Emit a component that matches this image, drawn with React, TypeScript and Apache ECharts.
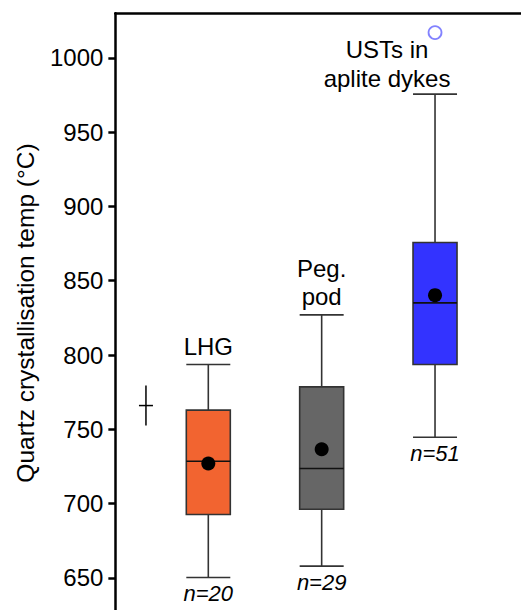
import React, { useEffect, useRef } from "react";
import * as echarts from "echarts";

// ---- data ----
const categories: string[][] = [["LHG"], ["Peg.", "pod"], ["USTs in", "aplite dykes"]];
const counts = ["n=20", "n=29", "n=51"];
const whiskerLow = [650.3, 657.9, 744.7];
const q1 = [692.7, 696.2, 793.6];
const median = [728.5, 723.6, 835.1];
const q3 = [762.9, 778.6, 875.7];
const whiskerHigh = [793.6, 827, 975.6];
const mean = [727, 736.6, 840.3];
const outliers: number[][] = [[3, 1017]];
const uncertaintyPos = [0.45];
const uncertaintyValue = [766];
const uncertaintyErr = [13.5];
const yTicks = [650, 700, 750, 800, 850, 900, 950, 1000];

// ---- styles / layout ----
const boxColors = ["#F26430", "#666666", "#3333FF"];
const labelDx = [0, 0, -48];
const labelDy = [-17.7, -18, -16];
const FONT = "'Liberation Sans', Arial, Helvetica, sans-serif";

export default function App() {
  const ref = useRef<HTMLDivElement>(null);
  useEffect(() => {
    if (!ref.current) return;
    const chart = echarts.init(ref.current, undefined, { renderer: "svg" });
    const boxData = categories.map((_, i) => [
      i + 1, whiskerLow[i], q1[i], median[i], q3[i], whiskerHigh[i], mean[i], i,
    ]);
    const half = 22;
    const stroke = "#333";
    const option: any = {
      animation: false,
      backgroundColor: "#fff",
      grid: { left: 115.35, top: 13.3, width: 421.7, height: 638.9, containLabel: false },
      xAxis: {
        type: "value",
        position: "top",
        min: 0.18,
        max: 3.9,
        axisLine: { show: true, onZero: false, lineStyle: { color: "#000", width: 2.5 } },
        axisTick: { show: false },
        axisLabel: { show: false },
        splitLine: { show: false },
      },
      yAxis: {
        type: "value",
        min: 600,
        max: 1030,
        interval: 50,
        axisLine: { show: true, onZero: false, lineStyle: { color: "#000", width: 2.5 } },
        axisTick: {
          show: true,
          length: 7,
          customValues: yTicks,
          lineStyle: { color: "#000", width: 2.5 },
        },
        axisLabel: {
          customValues: yTicks,
          formatter: (v: number) => String(v),
          color: "#000",
          fontSize: 24,
          fontFamily: FONT,
          margin: 12,
        },
        splitLine: { show: false },
      },
      graphic: [
        {
          type: "text",
          x: 25,
          y: 313,
          rotation: Math.PI / 2,
          style: {
            text: "Quartz crystallisation temp (°C)",
            fontSize: 24.5,
            fontFamily: FONT,
            fill: "#000",
            textAlign: "center",
            textVerticalAlign: "middle",
          },
        },
      ],
      series: [
        {
          type: "custom",
          clip: false,
          data: boxData,
          renderItem: (params: any, api: any) => {
            const x = api.value(0);
            const idx = api.value(7);
            const c = (v: number) => api.coord([x, v]);
            const cx = c(api.value(1))[0];
            const yLow = c(api.value(1))[1];
            const yQ1 = c(api.value(2))[1];
            const yMed = c(api.value(3))[1];
            const yQ3 = c(api.value(4))[1];
            const yHigh = c(api.value(5))[1];
            const yMean = c(api.value(6))[1];
            const ls = { stroke, lineWidth: 1.6 };
            const children: any[] = [
              { type: "line", shape: { x1: cx, y1: yQ3, x2: cx, y2: yHigh }, style: ls },
              { type: "line", shape: { x1: cx, y1: yQ1, x2: cx, y2: yLow }, style: ls },
              { type: "line", shape: { x1: cx - half, y1: yHigh, x2: cx + half, y2: yHigh }, style: ls },
              { type: "line", shape: { x1: cx - half, y1: yLow, x2: cx + half, y2: yLow }, style: ls },
              {
                type: "rect",
                shape: { x: cx - half, y: yQ3, width: half * 2, height: yQ1 - yQ3 },
                style: { fill: boxColors[idx], stroke, lineWidth: 1.6 },
              },
              { type: "line", shape: { x1: cx - half, y1: yMed, x2: cx + half, y2: yMed }, style: { stroke: "#111", lineWidth: 1.6 } },
              { type: "circle", shape: { cx, cy: yMean, r: 7 }, style: { fill: "#000" } },
            ];
            const lines = categories[idx];
            lines.forEach((t, k) => {
              children.push({
                type: "text",
                style: {
                  text: t,
                  x: cx + labelDx[idx],
                  y: yHigh + labelDy[idx] - (lines.length - 1 - k) * 28.8,
                  fill: "#000",
                  fontSize: 24,
                  fontFamily: FONT,
                  textAlign: "center",
                  textVerticalAlign: "middle",
                },
              });
            });
            children.push({
              type: "text",
              style: {
                text: counts[idx],
                x: cx,
                y: yLow + 16,
                fill: "#000",
                fontSize: 22,
                fontStyle: "italic",
                fontFamily: FONT,
                textAlign: "center",
                textVerticalAlign: "middle",
              },
            });
            return { type: "group", children };
          },
        },
        {
          type: "custom",
          clip: false,
          data: uncertaintyPos.map((p, i) => [p, uncertaintyValue[i], uncertaintyErr[i]]),
          renderItem: (params: any, api: any) => {
            const x = api.value(0);
            const v = api.value(1);
            const e = api.value(2);
            const top = api.coord([x, v + e]);
            const bot = api.coord([x, v - e]);
            const mid = api.coord([x, v]);
            const ls = { stroke: "#000", lineWidth: 1.5 };
            return {
              type: "group",
              children: [
                { type: "line", shape: { x1: top[0], y1: top[1], x2: bot[0], y2: bot[1] }, style: ls },
                { type: "line", shape: { x1: mid[0] - 7, y1: mid[1], x2: mid[0] + 7, y2: mid[1] }, style: ls },
              ],
            };
          },
        },
        {
          type: "scatter",
          data: outliers,
          symbol: "circle",
          symbolSize: 13,
          itemStyle: { color: "transparent", borderColor: "#6363ff", borderWidth: 1.8 },
        },
      ],
    };
    chart.setOption(option);
    return () => chart.dispose();
  }, []);
  return (
    <div
      ref={ref}
      style={{ position: "fixed", left: 0, top: 0, width: 560, height: 670, background: "#fff" }}
    />
  );
}
